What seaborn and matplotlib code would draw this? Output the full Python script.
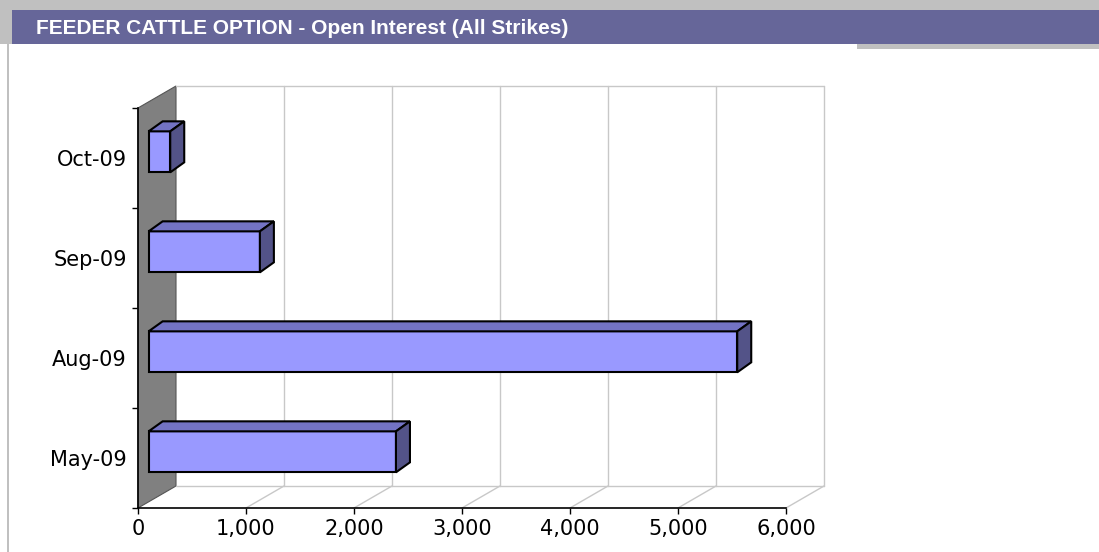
import pandas as pd
import seaborn as sns
import matplotlib.pyplot as plt
from matplotlib.patches import Polygon, Rectangle

# data
months = ["Oct-09", "Sep-09", "Aug-09", "May-09"]
open_interest = [200, 1030, 5450, 2290]
x_ticks = [0, 1000, 2000, 3000, 4000, 5000, 6000]
title = "FEEDER CATTLE OPTION - Open Interest (All Strikes)"

df = pd.DataFrame({"month": months, "oi": open_interest})

sns.set_style("white")
plt.rcParams['font.family'] = ['DejaVu Sans']

W, H = 1099, 552
fig = plt.figure(figsize=(W / 100, H / 100), dpi=100)
fig.patch.set_facecolor("white")


def fig_rect(x0, y0, x1, y1, color):
    # rectangle given in pixels from the top-left corner
    fig.add_artist(Rectangle((x0 / W, 1 - y1 / H), (x1 - x0) / W, (y1 - y0) / H,
                             transform=fig.transFigure, facecolor=color,
                             edgecolor="none", zorder=0))


# page header
fig_rect(0, 0, W, 44, "#c0c0c0")
fig_rect(12, 10, W, 44, "#666699")
fig_rect(857, 44, W, 49, "#c0c0c0")
fig_rect(7, 44, 9, H, "#c0c0c0")
fig.text(36 / W, 1 - 28 / H, title, color="white", fontsize=15, fontweight="bold",
         family=["Liberation Sans", "DejaVu Sans"], va="center", ha="left")

# front plane of the 3d box
ax = fig.add_axes([138 / W, 1 - 508 / H, 648 / W, 400 / H])
ax.set_facecolor("none")

xmax = x_ticks[-1]
n = len(months)
# px -> data units
ux = xmax / 648
uy = n / 400
# depth of the box (38 px right, 22 px up)
DX = 38 * ux
DY = 22 * uy


def proj(x, y, d):
    return (x + d * DX, y - d * DY)


ytop, ybot = -0.5, n - 0.5
kw = dict(clip_on=False)

# left wall
ax.add_patch(Polygon([proj(0, ytop, 0), proj(0, ytop, 1), proj(0, ybot, 1), proj(0, ybot, 0)],
                     closed=True, facecolor="#808080", edgecolor="#555555", lw=0.8, zorder=1, **kw))

grid_c = "#c8c8c8"
for v in x_ticks[1:]:
    # back wall gridline
    ax.plot(*zip(proj(v, ytop, 1), proj(v, ybot, 1)), color=grid_c, lw=1, zorder=1, **kw)
    # floor line
    ax.plot(*zip(proj(v, ybot, 0), proj(v, ybot, 1)), color=grid_c, lw=1, zorder=1, **kw)
ax.plot(*zip(proj(0, ytop, 1), proj(xmax, ytop, 1)), color=grid_c, lw=1, zorder=1, **kw)
ax.plot(*zip(proj(0, ybot, 1), proj(xmax, ybot, 1)), color=grid_c, lw=1, zorder=1, **kw)

# bars (front faces) through seaborn
sns.barplot(data=df, y="month", x="oi", order=months, orient="h", color="#9999ff",
            saturation=1, width=0.41, edgecolor="black", linewidth=1.5, ax=ax, zorder=3)

d1 = 0.28
bdx, bdy = 14 * ux, 10 * uy  # bar depth
for p in list(ax.patches):
    if not isinstance(p, Rectangle):
        continue
    x0 = p.get_x() + d1 * DX
    yt = p.get_y() - d1 * DY
    w, h = p.get_width(), p.get_height()
    p.set_x(x0)
    p.set_y(yt)
    p.set_clip_on(False)
    # top face
    top = [(x0, yt), (x0 + w, yt), (x0 + w + bdx, yt - bdy), (x0 + bdx, yt - bdy)]
    ax.add_patch(Polygon(top, closed=True, facecolor="#7373c4", edgecolor="black",
                         lw=1.5, zorder=3, joinstyle="miter", **kw))
    # side face
    side = [(x0 + w, yt), (x0 + w + bdx, yt - bdy),
            (x0 + w + bdx, yt + h - bdy), (x0 + w, yt + h)]
    ax.add_patch(Polygon(side, closed=True, facecolor="#535388", edgecolor="black",
                         lw=1.5, zorder=3, joinstyle="miter", **kw))

ax.set_xlim(0, xmax)
ax.set_ylim(ybot, ytop)
ax.set_xlabel("")
ax.set_ylabel("")

for s in ["top", "right"]:
    ax.spines[s].set_visible(False)
for s in ["left", "bottom"]:
    ax.spines[s].set_color("black")
    ax.spines[s].set_linewidth(1.2)
    ax.spines[s].set_zorder(2)

ax.set_xticks(x_ticks)
ax.set_xticklabels([f"{v:,}" for v in x_ticks])
ax.set_yticks([i - 0.5 for i in range(n + 1)], minor=True)
ax.tick_params(axis="x", direction="out", length=4, width=1, color="black",
               labelsize=15, labelcolor="black", pad=4, bottom=True)
ax.tick_params(axis="y", which="major", length=0, labelsize=15, labelcolor="black", pad=8)
ax.tick_params(axis="y", which="minor", direction="out", length=4, width=1,
               color="black", left=True)
ax.grid(False)

fig.savefig("out.png", dpi=100)
